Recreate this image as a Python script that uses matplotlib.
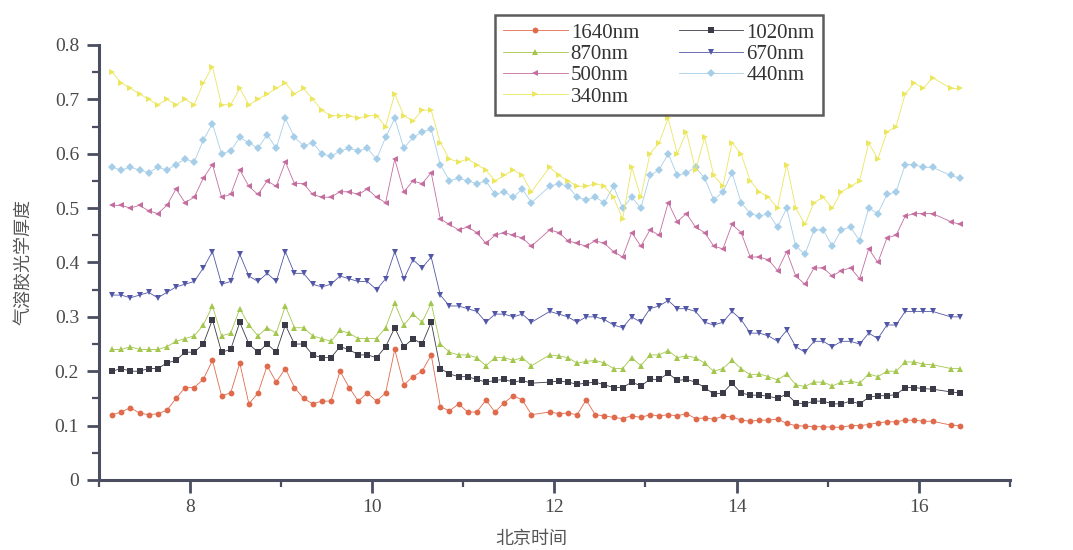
import matplotlib
matplotlib.use("Agg")
import matplotlib.pyplot as plt
from matplotlib.ticker import MultipleLocator, FuncFormatter

# Beijing time (hours), sampled every ~6 min, two gaps in the record
hours = [7.15, 7.25, 7.35, 7.45, 7.55, 7.65, 7.75, 7.85, 7.95, 8.05,
         8.15, 8.25, 8.35, 8.45, 8.55, 8.65, 8.75, 8.85, 8.95, 9.05,
         9.15, 9.25, 9.35, 9.45, 9.55, 9.65, 9.75, 9.85, 9.95, 10.05,
         10.15, 10.25, 10.35, 10.45, 10.55, 10.65, 10.75, 10.85, 10.95, 11.05,
         11.15, 11.25, 11.35, 11.45, 11.55, 11.65, 11.75,
         11.95, 12.05, 12.15, 12.25, 12.35, 12.45, 12.55, 12.65, 12.75, 12.85,
         12.95, 13.05, 13.15, 13.25, 13.35, 13.45, 13.55, 13.65, 13.75, 13.85,
         13.95, 14.05, 14.15, 14.25, 14.35, 14.45, 14.55, 14.65, 14.75, 14.85,
         14.95, 15.05, 15.15, 15.25, 15.35, 15.45, 15.55, 15.65, 15.75, 15.85,
         15.95, 16.05, 16.15,
         16.35, 16.45]

aod_1640 = [0.120, 0.125, 0.133, 0.123, 0.120, 0.122, 0.128, 0.150, 0.170, 0.170,
            0.185, 0.220, 0.155, 0.160, 0.215, 0.140, 0.160, 0.210, 0.180, 0.205,
            0.170, 0.150, 0.140, 0.145, 0.145, 0.200, 0.170, 0.145, 0.160, 0.145,
            0.160, 0.240, 0.175, 0.190, 0.200, 0.230, 0.135, 0.127, 0.140, 0.125,
            0.125, 0.147, 0.125, 0.142, 0.155, 0.147, 0.120,
            0.125, 0.122, 0.123, 0.120, 0.147, 0.120, 0.118, 0.115, 0.113, 0.118,
            0.115, 0.120, 0.118, 0.120, 0.118, 0.122, 0.113, 0.114, 0.112, 0.117,
            0.116, 0.110, 0.108, 0.110, 0.110, 0.112, 0.104, 0.100, 0.099, 0.098,
            0.098, 0.097, 0.097, 0.100, 0.100, 0.102, 0.105, 0.107, 0.107, 0.110,
            0.110, 0.108, 0.108,
            0.101, 0.100]

aod_1020 = [0.200, 0.205, 0.200, 0.200, 0.205, 0.205, 0.215, 0.220, 0.235, 0.235,
            0.250, 0.295, 0.235, 0.240, 0.290, 0.250, 0.235, 0.250, 0.235, 0.285,
            0.250, 0.250, 0.230, 0.225, 0.225, 0.245, 0.240, 0.230, 0.230, 0.225,
            0.245, 0.280, 0.245, 0.260, 0.250, 0.290, 0.205, 0.195, 0.190, 0.190,
            0.185, 0.180, 0.183, 0.185, 0.180, 0.183, 0.178,
            0.180, 0.182, 0.180, 0.176, 0.178, 0.180, 0.175, 0.170, 0.170, 0.180,
            0.173, 0.185, 0.185, 0.196, 0.183, 0.185, 0.180, 0.170, 0.158, 0.160,
            0.178, 0.160, 0.156, 0.156, 0.154, 0.150, 0.158, 0.142, 0.140, 0.145,
            0.145, 0.140, 0.140, 0.145, 0.140, 0.152, 0.155, 0.155, 0.157, 0.170,
            0.170, 0.168, 0.167,
            0.162, 0.160]

aod_870 = [0.240, 0.240, 0.245, 0.240, 0.240, 0.240, 0.245, 0.255, 0.260, 0.265,
           0.285, 0.320, 0.265, 0.270, 0.315, 0.285, 0.265, 0.280, 0.270, 0.320,
           0.280, 0.280, 0.265, 0.260, 0.255, 0.275, 0.270, 0.260, 0.260, 0.260,
           0.280, 0.325, 0.285, 0.305, 0.290, 0.325, 0.250, 0.235, 0.230, 0.230,
           0.225, 0.210, 0.225, 0.225, 0.220, 0.225, 0.210,
           0.230, 0.228, 0.225, 0.215, 0.218, 0.220, 0.215, 0.205, 0.205, 0.225,
           0.210, 0.230, 0.230, 0.238, 0.225, 0.228, 0.225, 0.215, 0.200, 0.205,
           0.220, 0.205, 0.193, 0.195, 0.190, 0.184, 0.195, 0.175, 0.172, 0.180,
           0.180, 0.173, 0.180, 0.182, 0.178, 0.195, 0.190, 0.200, 0.200, 0.217,
           0.217, 0.213, 0.212,
           0.205, 0.205]

aod_670 = [0.340, 0.340, 0.335, 0.340, 0.345, 0.335, 0.345, 0.355, 0.360, 0.365,
           0.390, 0.420, 0.360, 0.365, 0.415, 0.375, 0.365, 0.380, 0.365, 0.420,
           0.380, 0.380, 0.360, 0.355, 0.360, 0.375, 0.370, 0.365, 0.365, 0.350,
           0.370, 0.420, 0.370, 0.405, 0.390, 0.410, 0.340, 0.320, 0.320, 0.315,
           0.310, 0.290, 0.305, 0.305, 0.300, 0.305, 0.290,
           0.310, 0.305, 0.300, 0.290, 0.300, 0.300, 0.295, 0.285, 0.280, 0.300,
           0.290, 0.315, 0.320, 0.330, 0.315, 0.315, 0.310, 0.290, 0.285, 0.290,
           0.310, 0.295, 0.270, 0.270, 0.265, 0.255, 0.275, 0.245, 0.235, 0.255,
           0.255, 0.245, 0.255, 0.255, 0.250, 0.270, 0.260, 0.285, 0.285, 0.310,
           0.310, 0.310, 0.310,
           0.300, 0.300]

aod_500 = [0.505, 0.505, 0.500, 0.505, 0.495, 0.490, 0.505, 0.535, 0.510, 0.520,
           0.555, 0.580, 0.520, 0.525, 0.570, 0.540, 0.525, 0.550, 0.540, 0.585,
           0.545, 0.545, 0.525, 0.520, 0.520, 0.530, 0.530, 0.525, 0.535, 0.520,
           0.510, 0.590, 0.530, 0.550, 0.545, 0.565, 0.480, 0.470, 0.460, 0.465,
           0.455, 0.435, 0.450, 0.455, 0.450, 0.445, 0.430,
           0.460, 0.455, 0.440, 0.435, 0.430, 0.440, 0.435, 0.420, 0.410, 0.455,
           0.430, 0.460, 0.450, 0.510, 0.475, 0.490, 0.465, 0.455, 0.430, 0.425,
           0.470, 0.455, 0.410, 0.410, 0.405, 0.385, 0.420, 0.375, 0.360, 0.390,
           0.390, 0.375, 0.385, 0.390, 0.370, 0.425, 0.400, 0.445, 0.450, 0.485,
           0.490, 0.490, 0.490,
           0.475, 0.470]

aod_440 = [0.575, 0.570, 0.575, 0.570, 0.565, 0.575, 0.570, 0.580, 0.590, 0.585,
           0.625, 0.655, 0.600, 0.605, 0.630, 0.620, 0.610, 0.635, 0.610, 0.665,
           0.630, 0.615, 0.620, 0.600, 0.595, 0.605, 0.610, 0.605, 0.610, 0.590,
           0.630, 0.665, 0.610, 0.630, 0.640, 0.645, 0.580, 0.550, 0.555, 0.550,
           0.545, 0.550, 0.525, 0.530, 0.520, 0.535, 0.510,
           0.540, 0.545, 0.540, 0.520, 0.515, 0.520, 0.510, 0.540, 0.500, 0.520,
           0.500, 0.560, 0.570, 0.600, 0.560, 0.565, 0.575, 0.555, 0.515, 0.530,
           0.565, 0.510, 0.490, 0.485, 0.490, 0.465, 0.500, 0.430, 0.415, 0.460,
           0.460, 0.430, 0.460, 0.465, 0.440, 0.500, 0.490, 0.525, 0.530, 0.580,
           0.580, 0.575, 0.575,
           0.560, 0.555]

aod_340 = [0.750, 0.730, 0.720, 0.710, 0.700, 0.690, 0.700, 0.690, 0.700, 0.690,
           0.730, 0.760, 0.690, 0.690, 0.720, 0.690, 0.700, 0.710, 0.720, 0.730,
           0.710, 0.720, 0.700, 0.680, 0.670, 0.670, 0.670, 0.665, 0.670, 0.670,
           0.650, 0.710, 0.670, 0.660, 0.680, 0.680, 0.620, 0.590, 0.585, 0.590,
           0.580, 0.570, 0.550, 0.560, 0.570, 0.560, 0.530,
           0.575, 0.560, 0.550, 0.540, 0.540, 0.545, 0.540, 0.520, 0.480, 0.575,
           0.520, 0.600, 0.620, 0.665, 0.600, 0.640, 0.570, 0.630, 0.560, 0.540,
           0.620, 0.600, 0.550, 0.530, 0.520, 0.500, 0.580, 0.500, 0.470, 0.510,
           0.520, 0.500, 0.530, 0.540, 0.550, 0.620, 0.590, 0.640, 0.650, 0.710,
           0.730, 0.720, 0.740,
           0.720, 0.720]

labels = ["1640nm", "1020nm", "870nm", "670nm", "500nm", "440nm", "340nm"]

series = [aod_1640, aod_1020, aod_870, aod_670, aod_500, aod_440, aod_340]
colors = ["#e06a4c", "#3b3b47", "#a3c64c", "#5156a6", "#c46d9f", "#a6cee8", "#ebe65c"]
markers = ["o", "s", "^", "v", "<", "D", ">"]
msizes = [4.2, 3.8, 4.6, 4.6, 4.6, 3.6, 4.6]

plt.rcParams["font.family"] = ["Liberation Serif", "DejaVu Serif"]

fig = plt.figure(figsize=(10.73, 5.5), dpi=100)
ax = fig.add_axes([0.0918, 0.1273, 0.8495, 0.791])

handles = []
for vals, lab, c, m, ms in zip(series, labels, colors, markers, msizes):
    h, = ax.plot(hours, vals, color=c, marker=m, markersize=ms,
                 markeredgewidth=0, linewidth=0.6, label=lab)
    handles.append(h)

ax.set_xlim(7, 17)
ax.set_ylim(0, 0.8)
ax.xaxis.set_minor_locator(MultipleLocator(1))
ax.yaxis.set_major_locator(MultipleLocator(0.1))
ax.yaxis.set_minor_locator(MultipleLocator(0.05))
ax.yaxis.set_major_formatter(FuncFormatter(lambda v, p: f"{v:g}"))
ax.set_xticks([8, 10, 12, 14, 16])

axis_col = "#4b4e60"
for side in ["top", "right"]:
    ax.spines[side].set_visible(False)
for side in ["left", "bottom"]:
    ax.spines[side].set_color(axis_col)
    ax.spines[side].set_linewidth(2.2)
ax.tick_params(which="major", direction="out", length=9, width=2.0,
               color=axis_col, labelsize=14, labelcolor="#4a4a4a", pad=5)
ax.tick_params(which="minor", direction="out", length=5, width=1.6, color=axis_col)

ax.set_xlabel("北京时间", family=["Noto Sans CJK SC"], fontsize=13,
              color="#555555")
ax.set_ylabel("气溶胶光学厚度", family=["Noto Sans CJK SC"], fontsize=13,
              color="#555555", labelpad=16)
ax.xaxis.set_label_coords(0.475, -0.115)

# row-major order in a 2-column legend
order = [0, 2, 4, 6, 1, 3, 5]
leg = fig.legend([handles[i] for i in order], [labels[i] for i in order],
                 ncol=2, loc="upper left", bbox_to_anchor=(0.461, 0.973),
                 frameon=True, fancybox=False, fontsize=15, handlelength=3.1,
                 handletextpad=0.15, columnspacing=1.9, labelspacing=0.08,
                 borderpad=0.4, borderaxespad=0)
leg.get_frame().set_edgecolor("#333333")
leg.get_frame().set_linewidth(1.8)
for t in leg.get_texts():
    t.set_color("#333333")

fig.savefig("out.png", dpi=100, facecolor="white")
